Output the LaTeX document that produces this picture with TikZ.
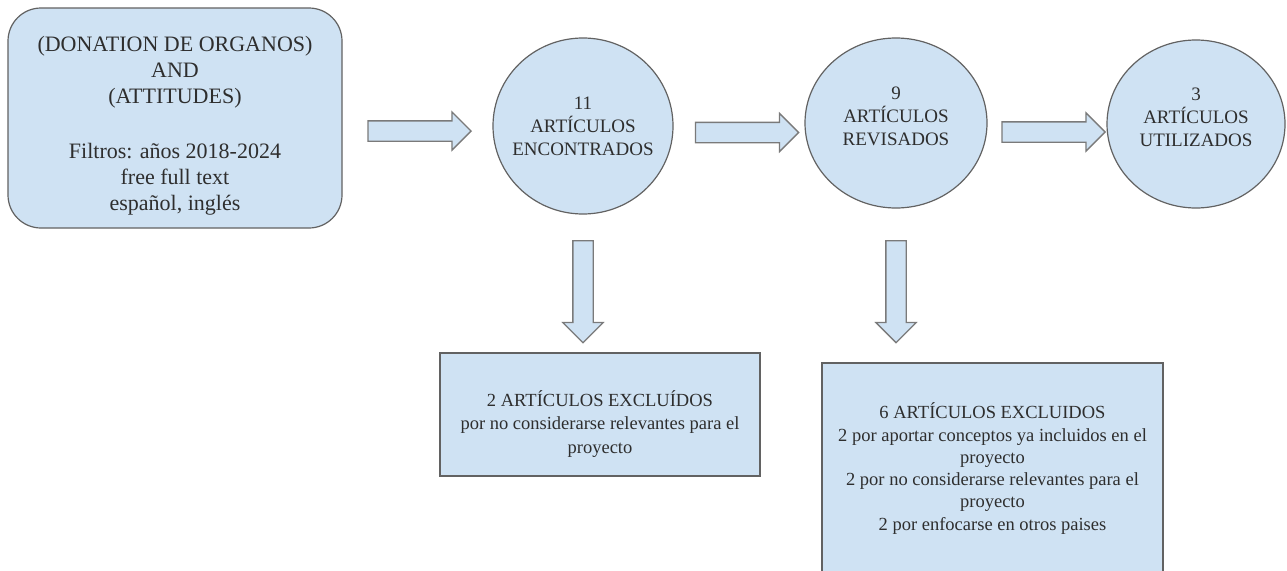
\documentclass[tikz,border=0pt]{standalone}
\usepackage{fontspec}
\setmainfont{Liberation Serif}
\usetikzlibrary{shapes.geometric,shapes.arrows,calc}
\definecolor{fillblue}{HTML}{CFE2F3}
\definecolor{edgegray}{HTML}{626262}
\definecolor{arrowgray}{HTML}{7A7A7A}
\definecolor{txtgray}{HTML}{2E2E2E}
\begin{document}
\begin{tikzpicture}[x=1pt,y=-1pt,
  shapebox/.style={draw=edgegray, line width=1.2pt, fill=fillblue, inner sep=0pt},
  roundbox/.style={shapebox, rectangle, rounded corners=33pt},
  sqbox/.style={shapebox, rectangle},
  stagecircle/.style={shapebox, ellipse},
  boxtext/.style={text=txtgray, align=center, inner sep=0pt},
  circletext/.style={boxtext, font=\fontsize{19}{23}\selectfont},
  harrow/.style={single arrow, draw=arrowgray, fill=fillblue, line width=1.3pt,
    single arrow head extend=9pt, single arrow tip angle=90,
    minimum height=103pt, minimum width=37pt, inner xsep=0pt, inner ysep=9.5pt,
    text height=0pt, text depth=0pt, text width=0pt},
  varrow/.style={harrow, rotate=-90, minimum height=102pt, minimum width=40pt, single arrow head extend=10pt},
]
\useasboundingbox[fill=white] (0,0) rectangle (1287,570);

\node[roundbox, minimum width=334pt, minimum height=220pt] (src) at (175,118) {};
\node[boxtext, font=\fontsize{22}{26}\selectfont] (srct) at ($(src)+(0,8)$)
  {(DONATION DE ORGANOS)\\AND\\(ATTITUDES)\\[29pt]Filtros: años 2018-2024\\free full text\\español, inglés};

\node[stagecircle, minimum width=180pt, minimum height=176pt] (c1) at (583,126) {};
\node[circletext] (c1t) at (c1) {11\\ARTÍCULOS\\ENCONTRADOS};

\node[stagecircle, minimum width=182pt, minimum height=170pt] (c2) at (896,123) {};
\node[circletext] (c2t) at ($(c2)+(0,-7)$) {9\\ARTÍCULOS\\REVISADOS};

\node[stagecircle, minimum width=178pt, minimum height=168pt] (c3) at (1196,124) {};
\node[circletext] (c3t) at ($(c3)+(0,-7)$) {3\\ARTÍCULOS\\UTILIZADOS};

\node[sqbox, minimum width=320pt, minimum height=123pt] (ex1) at (600,414.5) {};
\node[boxtext, font=\fontsize{18.5}{23.5}\selectfont] (ex1t) at ($(ex1)+(0,9.5)$)
  {2 ARTÍCULOS EXCLUÍDOS\\por no considerarse relevantes para el\\proyecto};

\node[sqbox, minimum width=341pt, minimum height=211pt] (ex2) at (992.5,468.5) {};
\node[boxtext, font=\fontsize{18.5}{22.3}\selectfont] (ex2t) at (ex2)
  {6 ARTÍCULOS EXCLUIDOS\\2 por aportar conceptos ya incluidos en el\\proyecto\\2 por no considerarse relevantes para el\\proyecto\\2 por enfocarse en otros paises};

\node[harrow] (a1) at ($(src.east)!.5!(c1.west)+(-3,9)$) {};
\node[harrow] (a2) at ($(c1.east)!.5!(c2.west)+(3,8)$) {};
\node[harrow] (a3) at ($(c2.east)!.5!(c3.west)+(1.5,8.5)$) {};
\node[varrow] (d1) at ($(c1.south)+(0,72)$) {};
\node[varrow] (d2) at ($(c2.south)+(0,78)$) {};
\end{tikzpicture}
\end{document}
